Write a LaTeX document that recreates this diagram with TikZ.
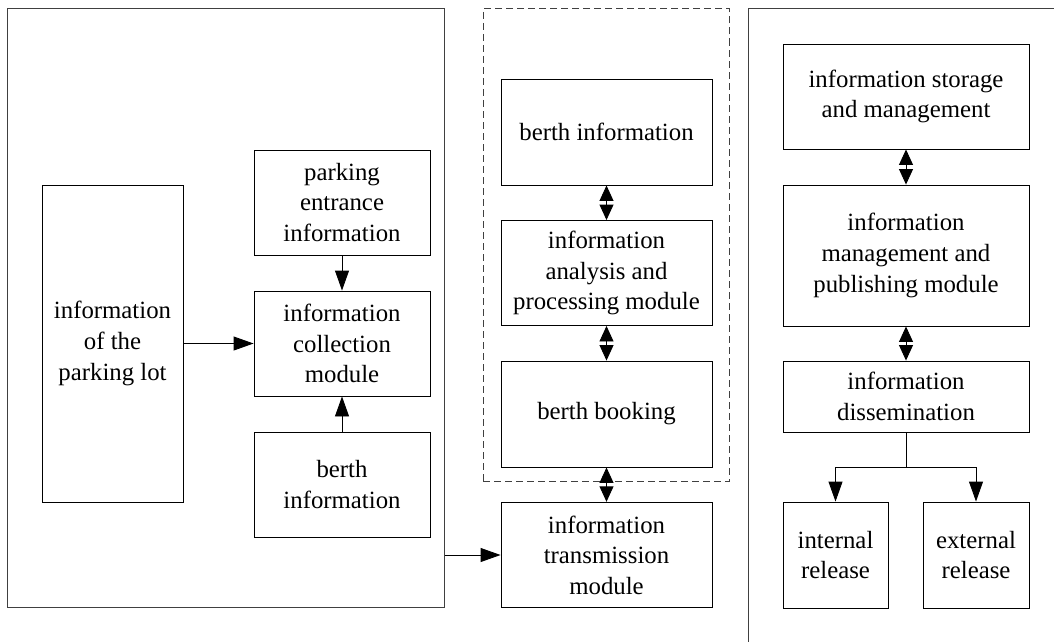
\documentclass[tikz,border=0pt]{standalone}
\usepackage{fontspec}
\setmainfont{Liberation Serif}
\usetikzlibrary{arrows.meta}
\begin{document}
\begin{tikzpicture}[x=1pt,y=-1pt,
  box/.style={draw, line width=0.9pt, align=center, inner sep=0pt,
    font=\fontsize{24.8}{30.6}\selectfont},
  panel/.style={draw=black!75, line width=1pt},
  arr/.style={line width=0.9pt, -{Triangle[length=20pt,width=14pt]}},
  dbl/.style={line width=0.9pt,
    {Triangle[length=15.5pt,width=14pt]}-{Triangle[length=15.5pt,width=14pt]}}]
\useasboundingbox (0,0) rectangle (1054,642);

% frames
\node[panel, inner sep=0pt, minimum width=436.5pt, minimum height=598.5pt]
  (leftpanel) at (225.75,308.25) {};
\node[panel, dashed, dash pattern=on 7pt off 4pt, inner sep=0pt,
  minimum width=246.5pt, minimum height=472pt] (midpanel) at (606.25,245) {};
\draw[panel] (748,645) -- (748,9) -- (1058,9);

% left group: collection
\node[box, minimum width=141pt, minimum height=317pt] (lot) at (112.5,343.5)
  {information\\of the\\parking lot};
\node[box, minimum width=176pt, minimum height=105pt] (entr) at (342,202.5)
  {parking\\entrance\\information};
\node[box, minimum width=176pt, minimum height=105pt] (coll) at (342,343.5)
  {information\\collection\\module};
\node[box, minimum width=176pt, minimum height=105pt] (berthL) at (342,484.5)
  {berth\\information};

% middle group: analysis
\node[box, minimum width=211pt, minimum height=106pt] (berthM) at (606.5,132)
  {berth information};
\node[box, minimum width=211pt, minimum height=105pt] (anal) at (606.5,273)
  {information\\analysis and\\processing module};
\node[box, minimum width=211pt, minimum height=106pt] (book) at (606.5,414)
  {berth booking};
\node[box, minimum width=211pt, minimum height=105.5pt] (trans) at (606.5,555)
  {information\\transmission\\module};

% right group: publishing
\node[box, minimum width=246pt, minimum height=105pt] (stor) at (906,96.5)
  {information storage\\and management};
\node[box, minimum width=246pt, minimum height=141pt] (mgmt) at (906,255.5)
  {information\\management and\\publishing module};
\node[box, minimum width=246pt, minimum height=71pt] (diss) at (906,396.5)
  {information\\dissemination};
\node[box, minimum width=105pt, minimum height=106pt] (intl) at (835.5,555)
  {internal\\release};
\node[box, minimum width=106pt, minimum height=106pt] (extl) at (976,555)
  {external\\release};

% connectors
\draw[arr] (lot.east) -- (coll.west);
\draw[arr] (entr.south) -- (coll.north);
\draw[arr] (berthL.north) -- (coll.south);
\draw[arr] (trans.west -| leftpanel.east) -- (trans.west);

\draw[dbl] (berthM.south) -- (anal.north);
\draw[dbl] (anal.south) -- (book.north);
\draw[dbl] (book.south) -- (trans.north);

\draw[dbl] (stor.south) -- (mgmt.north);
\draw[dbl] (mgmt.south) -- (diss.north);
\draw[line width=0.9pt] (diss.south) -- ++(0,35) coordinate (split);
\draw[arr] (split) -| (intl.north);
\draw[arr] (split) -| (extl.north);
\end{tikzpicture}
\end{document}
